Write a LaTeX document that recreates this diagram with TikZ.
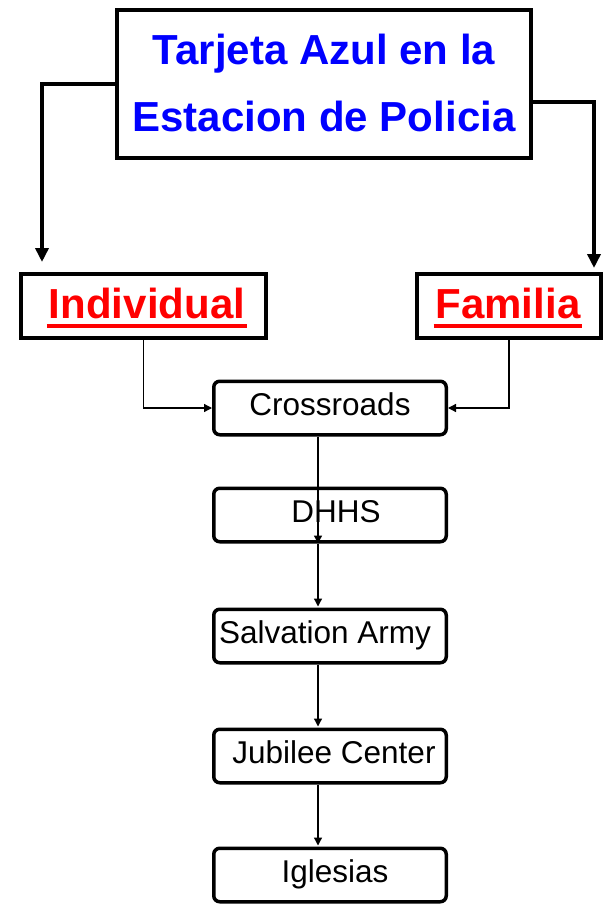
\documentclass[tikz,border=0pt]{standalone}
\usepackage{fontspec}
\setmainfont{Liberation Sans}
\usetikzlibrary{arrows.meta,calc}
\definecolor{ttlblue}{RGB}{0,0,255}
\definecolor{ttlred}{RGB}{255,0,0}
\newcommand\myul[1]{\setbox0\hbox{#1}\rlap{\hspace*{-2pt}\rule[-10pt]{\dimexpr\wd0+4pt\relax}{4.5pt}}\box0}
\tikzset{
  bigbox/.style={draw, line width=4pt, inner sep=0pt, minimum height=64pt},
  titletext/.style={font=\bfseries\fontsize{42}{67}\selectfont, text=ttlblue, anchor=base, inner sep=0pt},
  redtext/.style={font=\bfseries\fontsize{42}{50}\selectfont, text=ttlred, anchor=base, inner sep=0pt},
  smallbox/.style={draw, line width=3.5pt, rounded corners=6pt, minimum width=232.5pt, minimum height=53.5pt,
    inner sep=0pt, font=\fontsize{31.5}{36}\selectfont, text height=22pt, text depth=7pt},
  bigarrow/.style={line width=4pt, -{Triangle[width=13pt,length=14pt]}},
  thinarrow/.style={line width=1.3pt, -{Triangle[width=8pt,length=8pt]}}
}
\begin{document}
\begin{tikzpicture}[x=1pt,y=1pt]
\useasboundingbox (0,0) rectangle (603,-904);
% top box
\node[bigbox, minimum width=414pt, minimum height=148pt] (top) at (324,-84) {};
\node[titletext] (t1) at (324,-65) {Tarjeta Azul en la};
\node[titletext] (t2) at (324,-132) {Estacion de Policia};
% second row
\node[bigbox, minimum width=245pt] (ind) at (143.5,-306) {};
\node[redtext] (indt) at (147,-318) {\myul{Individual}};
\node[bigbox, minimum width=184pt] (fam) at (509,-306) {};
\node[redtext] (famt) at (508,-318) {\myul{Familia}};
% arrows from top
\coordinate (lt) at (42,-262);
\coordinate (rt) at (594,-268);
\draw[bigarrow] (top.west) -| (lt);
\draw[bigarrow] ([yshift=-18pt]top.east) -| (rt);
% chain
\node[smallbox] (cross) at (330,-408) {Crossroads};
\node[smallbox] (dhhs) at (330,-515) {\hspace*{12pt}DHHS};
\node[smallbox] (salv) at (330,-636) {Salvation Army\hspace*{10pt}};
\node[smallbox] (jub) at (330,-756) {\hspace*{8pt}Jubilee Center};
\node[smallbox] (igl) at (330,-875) {\hspace*{10pt}Iglesias};
\draw[thinarrow] (ind.south) |- (cross.west);
\draw[thinarrow] (fam.south) |- (cross.east);
\coordinate (col) at (318,0);
\draw[thinarrow] (cross.south -| col) -- (dhhs.south -| col);
\draw[thinarrow] (dhhs.south -| col) -- ([yshift=1pt]salv.north -| col);
\draw[thinarrow] (salv.south -| col) -- ([yshift=1pt]jub.north -| col);
\draw[thinarrow] (jub.south -| col) -- ([yshift=1pt]igl.north -| col);
\end{tikzpicture}
\end{document}
